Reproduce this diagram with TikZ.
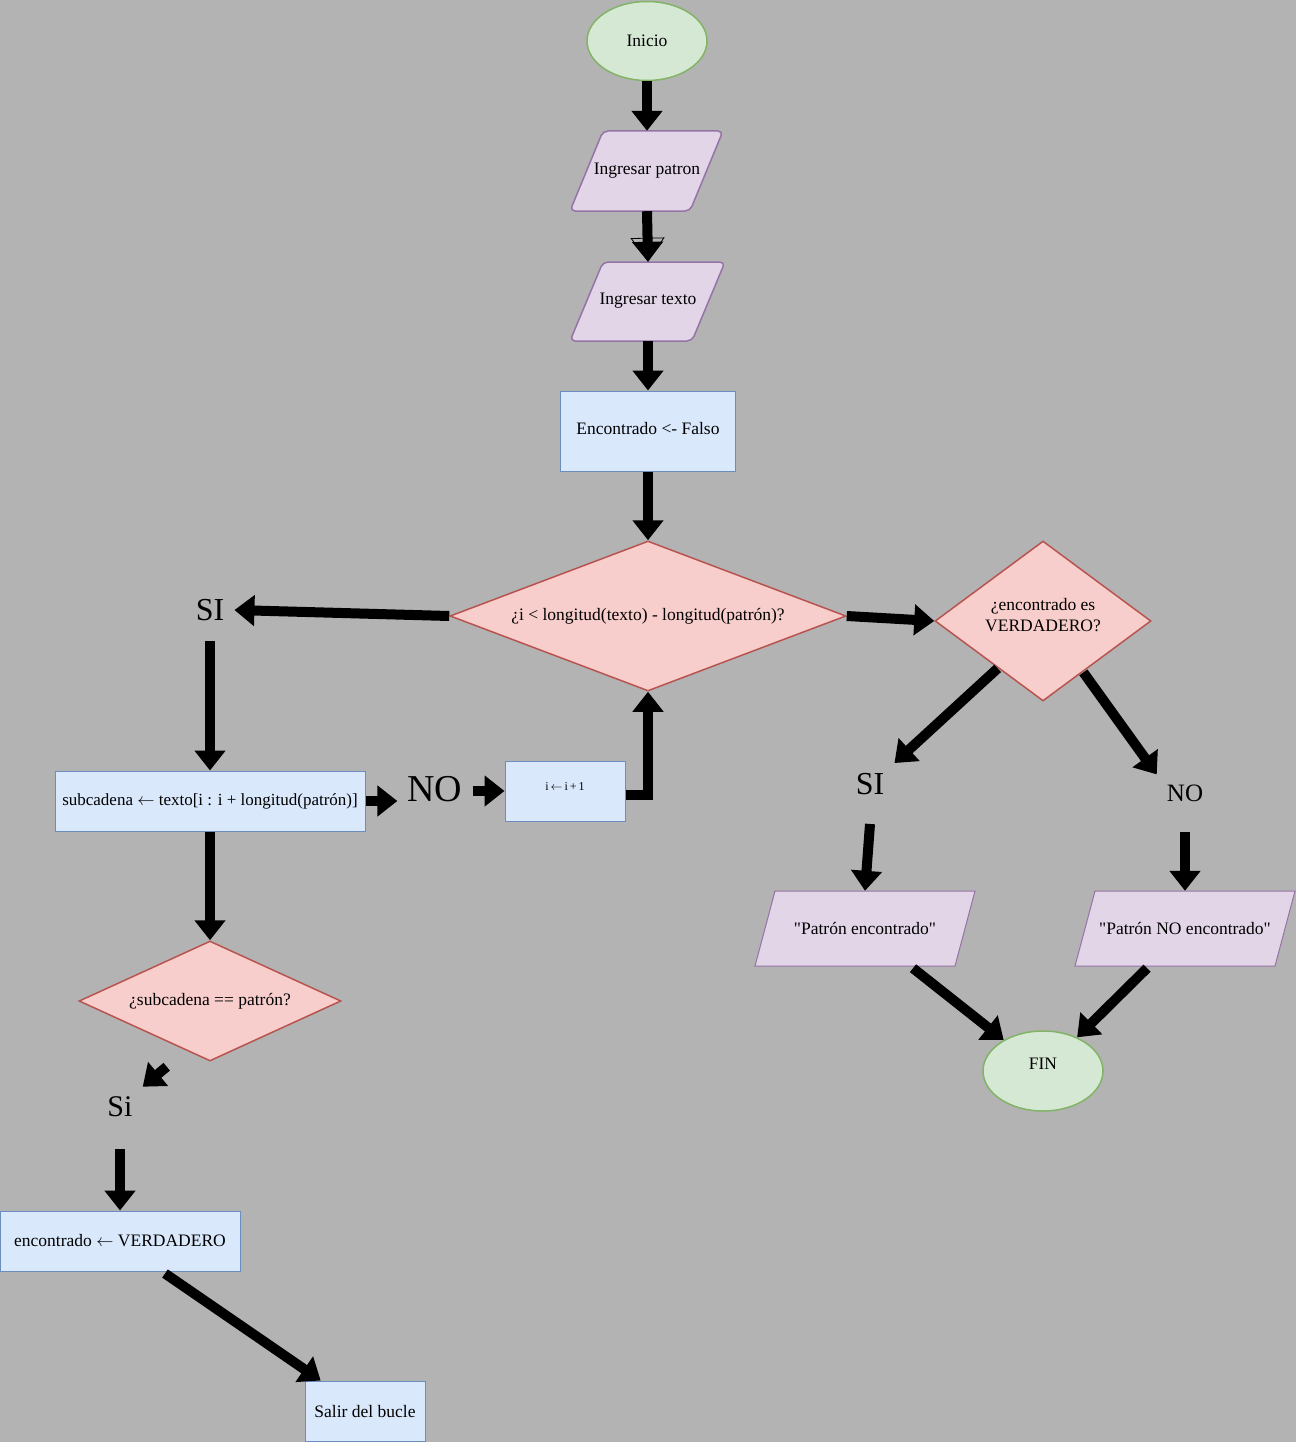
\documentclass[tikz,border=0pt]{standalone}
\usepackage{fontspec}
\setmainfont{Liberation Serif}[Ligatures=TeXOff]
\usetikzlibrary{shapes.geometric,arrows.meta,calc}
\definecolor{bg}{HTML}{B3B3B3}
\definecolor{termfill}{HTML}{D5E8D4}
\definecolor{termline}{HTML}{82B366}
\definecolor{iofill}{HTML}{E1D5E7}
\definecolor{ioline}{HTML}{9673A6}
\definecolor{procfill}{HTML}{DAE8FC}
\definecolor{procline}{HTML}{6C8EBF}
\definecolor{decfill}{HTML}{F8CECC}
\definecolor{decline}{HTML}{B85450}
\newcommand{\fs}[1]{\fontsize{#1}{1.2\dimexpr#1pt\relax}\selectfont}
\begin{document}
\begin{tikzpicture}[x=1pt,y=-1pt,font=\fs{17.5},
  term/.style={ellipse,draw=termline,fill=termfill,line width=1.5pt,
    minimum width=120pt,minimum height=79pt,inner sep=0pt},
  proc/.style={rectangle,draw=procline,fill=procfill,line width=1pt,inner sep=0pt},
  decision/.style={diamond,draw=decline,fill=decfill,line width=1.5pt,
    inner sep=0pt,align=center},
  iobox/.style={rectangle,inner sep=0pt},
  ioshape/.style={draw=ioline,fill=iofill,line width=1.5pt},
  lbl/.style={inner sep=10pt},
  arr/.style={line width=10pt,-{Triangle[width=30pt,length=20pt]}},
  openhead/.style={line width=0.8pt,-{Triangle[open,width=34pt,length=24pt]}}
]
\fill[bg] (0,0) rectangle (1296,1442);
\useasboundingbox (0,0) rectangle (1296,1442);

% ---------- input/output parallelograms ----------
\path[ioshape,rounded corners=5pt] (603,131) -- (723,131) -- (690,211) -- (570,211) -- cycle;
\path[ioshape,rounded corners=5pt] (603,262) -- (725,262) -- (692,341) -- (570,341) -- cycle;
\path[ioshape,line width=1pt] (775,891) -- (975,891) -- (955,966) -- (755,966) -- cycle;
\path[ioshape,line width=1pt] (1095,891) -- (1295,891) -- (1275,966) -- (1075,966) -- cycle;

% ---------- nodes ----------
\node[term] (inicio) at (647,41) {Inicio};
\node[iobox,minimum width=120pt,minimum height=80pt] (p1) at (647,171) {Ingresar patron};
\node[iobox,minimum width=122pt,minimum height=79pt] (p2) at (648,301.5) {\raisebox{6pt}{Ingresar texto}};
\node[proc,minimum width=175pt,minimum height=80pt] (enc) at (648,431) {\raisebox{6pt}{Encontrado <- Falso}};
\node[decision,aspect=2.64,minimum width=396pt,minimum height=150pt] (d1) at (648,616)
  {¿i < longitud(texto) - longitud(patrón)?};
\node[decision,aspect=1.35,minimum width=216pt,minimum height=160pt,
  label={[yshift=6pt,align=center]center:¿encontrado es\\VERDADERO?}] (d2) at (1043,621) {};
\node[lbl,font=\fs{32}] (si1) at (210,610) {SI};
\node[proc,minimum width=310pt,minimum height=60pt,font=\fs{17}] (sub) at (210,801)
  {subcadena $\leftarrow$ texto[i : i + longitud(patrón)]};
\node[lbl,font=\fs{38}] (no1) at (435,789) {NO};
\node[proc,minimum width=120pt,minimum height=60pt] (inc) at (565,791)
  {\raisebox{8pt}{\fs{12}i$\,\leftarrow\,$i\,+\,1}};
\node[decision,aspect=2.18,minimum width=262pt,minimum height=120pt] (d3) at (210,1001) {¿subcadena == patrón?};
\node[lbl,font=\fs{30}] (si3) at (120,1107) {Si};
\node[proc,minimum width=240pt,minimum height=60pt] (enc2) at (120,1241) {encontrado $\leftarrow$ VERDADERO};
\node[proc,minimum width=120pt,minimum height=60pt] (salir) at (365,1411) {Salir del bucle};
\node[lbl,font=\fs{32}] (si2) at (870,784) {SI};
\node[lbl,font=\fs{25}] (no2) at (1185,793) {NO};
\node[iobox,minimum width=200pt,minimum height=75pt] (pe) at (865,928.5) {"Patrón encontrado"};
\node[iobox,minimum width=200pt,minimum height=75pt] (pn) at (1185,928.5) {"Patrón NO encontrado"};
\node[term,minimum height=80pt,label={[yshift=7pt]center:FIN}] (fin) at (1043,1071) {};

% ---------- connectors ----------
\draw[arr] (inicio.south) -- (p1.north);
\draw[arr] (p1.south) -- (p2.north);
\draw[openhead] (p1.south) -- (p2.north);
\draw[arr] (p2.south) -- (enc.north);
\draw[arr] (enc.south) -- (d1.north);
\draw[arr] (d1.west) -- (si1.east);
\draw[arr] ($(si1.south)+(0,10)$) -- (sub.north);
\draw[arr] (sub.east) -- (sub.east -| no1.west);
\draw[arr] (no1.east |- inc.west) -- (inc.west);
\draw[arr] ($(inc.east)+(0,4)$) -| (d1.south);
\draw[arr] (d1.east) -- (d2.west);
\draw[arr] ($(d2.south west)+(9,7)$) -- (si2.north east);
\draw[arr] ($(d2.south east)+(-14,11)$) -- (no2.north west);
\draw[arr] ($(si2.south)+(0,19)$) -- (pe.north);
\draw[arr] ($(no2.south)+(0,20)$) -- (pn.north);
\draw[arr] ($(pe.south)+(48,2)$) -- (fin);
\draw[arr] ($(pn.south)+(-38,2)$) -- (fin);
\draw[arr] (sub.south) -- (d3.north);
\draw[arr] ($(si3.north east)+(24,-20)$) -- (si3.north east);
\draw[arr] ($(si3.south)+(0,22)$) -- (enc2.north);
\draw[arr] ($(enc2.south)+(45,2)$) -- (salir);
\end{tikzpicture}
\end{document}
